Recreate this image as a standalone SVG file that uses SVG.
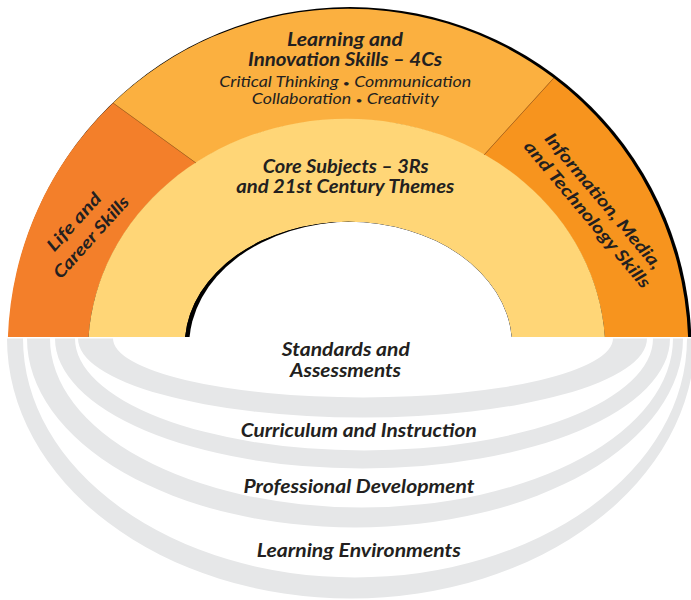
<svg xmlns="http://www.w3.org/2000/svg" width="691" height="600" viewBox="0 0 691 600">
  <defs>
    <style>
      .t { font-family: Lato, "Open Sans", "Liberation Sans", sans-serif; font-style: italic; font-weight: bold; fill: #231F20; text-anchor: middle; }
      .s { font-family: Lato, "Open Sans", "Liberation Sans", sans-serif; font-style: italic; font-weight: normal; fill: #231F20; text-anchor: middle; }
      .b { font-size: 10px; }
      .gray { fill: #E6E7E8; }
      .div { stroke: #B0651E; stroke-width: 0.7; fill: none; }
    </style>
    <clipPath id="above">
      <rect x="0" y="0" width="691" height="337"/>
    </clipPath>
    <clipPath id="hole">
      <path d="M 185.1,337 A 163.7 123.9 0 0 1 511.7,337 Z"/>
    </clipPath>
  </defs>
  <rect x="0" y="0" width="691" height="600" fill="#FFFFFF"/>

  <g id="foundations">
    <path class="gray" d="M 7,338.5 A 344 260 0 0 0 695,338.5 L 687,338.5 A 332 239 0 0 1 23,338.5 Z"/>
    <path class="gray" d="M 27,338.5 A 328 189 0 0 0 683,338.5 L 673,338.5 A 311.5 169 0 0 1 50,338.5 Z"/>
    <path class="gray" d="M 55,338.5 A 307.5 130 0 0 0 670,338.5 L 653,338.5 A 289 112 0 0 1 75,338.5 Z"/>
    <path class="gray" d="M 78,338.5 A 284.5 79 0 0 0 647,338.5 L 613,338.5 A 250 59 0 0 1 113,338.5 Z"/>
  </g>

  <g id="outer-shadow">
    <circle cx="350" cy="348.5" r="341.5" fill="#000000" clip-path="url(#above)"/>
  </g>

  <g id="life-career">
    <path fill="#F37F2A" d="M 7.9,337 A 340.3 340.3 0 0 1 113,102.9 L 196,163 A 258.7 232.7 0 0 0 88.5,337 Z"/>
    <g transform="translate(82.5,229.5) rotate(-48)">
      <text class="t" x="0" y="-5.5" font-size="17" textLength="72" lengthAdjust="spacingAndGlyphs">Life and</text>
      <text class="t" x="0" y="17.5" font-size="17" textLength="104" lengthAdjust="spacingAndGlyphs">Career Skills</text>
    </g>
  </g>

  <g id="learning-innovation">
    <path fill="#FBB040" d="M 113,102.9 A 340.3 340.3 0 0 1 553.8,78 L 484,155 A 258.7 232.7 0 0 0 196,163 Z"/>
    <text class="t" x="345" y="46" font-size="18" textLength="116" lengthAdjust="spacingAndGlyphs">Learning and</text>
    <text class="t" x="345" y="66" font-size="18" textLength="194" lengthAdjust="spacingAndGlyphs">Innovation Skills – 4Cs</text>
    <text class="s" x="345.3" y="86.5" font-size="14.5" textLength="252" lengthAdjust="spacingAndGlyphs">Critical Thinking <tspan class="b">•</tspan> Communication</text>
    <text class="s" x="345.3" y="103.5" font-size="14.5" textLength="187" lengthAdjust="spacingAndGlyphs">Collaboration <tspan class="b">•</tspan> Creativity</text>
  </g>

  <g id="info-media-tech">
    <path fill="#F7941E" d="M 553.8,78 A 340.3 340.3 0 0 1 688.1,337 L 604.9,337 A 258.7 232.7 0 0 0 484,155 Z"/>
    <g transform="translate(595.5,207.75) rotate(50)">
      <text class="t" x="0" y="-4.5" font-size="17" textLength="172" lengthAdjust="spacingAndGlyphs">Information, Media,</text>
      <text class="t" x="0" y="16.5" font-size="17" textLength="186" lengthAdjust="spacingAndGlyphs">and Technology Skills</text>
    </g>
  </g>

  <g id="core-subjects">
    <path fill="#FFD677" d="M 88.5,337 A 258.7 232.7 0 0 1 604.9,337 L 511.7,337 A 163.7 123.9 0 0 0 185.1,337 Z"/>
    <text class="t" x="345.7" y="173" font-size="18" textLength="166" lengthAdjust="spacingAndGlyphs">Core Subjects – 3Rs</text>
    <text class="t" x="345.2" y="193" font-size="18" textLength="218" lengthAdjust="spacingAndGlyphs">and 21st Century Themes</text>
  </g>

  <g id="hole-shadow">
    <rect x="180" y="215" width="340" height="125" fill="#000000" clip-path="url(#hole)"/>
    <ellipse cx="352.9" cy="345.4" rx="163.7" ry="123.9" fill="#FFFFFF" clip-path="url(#hole)"/>
  </g>

  <g id="connectors">
    <line class="div" x1="113" y1="102.9" x2="196" y2="163"/>
    <line class="div" x1="553.8" y1="78" x2="484" y2="155"/>
  </g>

  <g id="labels-foundations">
    <text class="t" x="345.8" y="356" font-size="18" textLength="128" lengthAdjust="spacingAndGlyphs">Standards and</text>
    <text class="t" x="345.5" y="377" font-size="18" textLength="111" lengthAdjust="spacingAndGlyphs">Assessments</text>
    <text class="t" x="358.7" y="437" font-size="18" textLength="236" lengthAdjust="spacingAndGlyphs">Curriculum and Instruction</text>
    <text class="t" x="359" y="493" font-size="18" textLength="231" lengthAdjust="spacingAndGlyphs">Professional Development</text>
    <text class="t" x="358.8" y="557" font-size="18" textLength="204" lengthAdjust="spacingAndGlyphs">Learning Environments</text>
  </g>
</svg>
